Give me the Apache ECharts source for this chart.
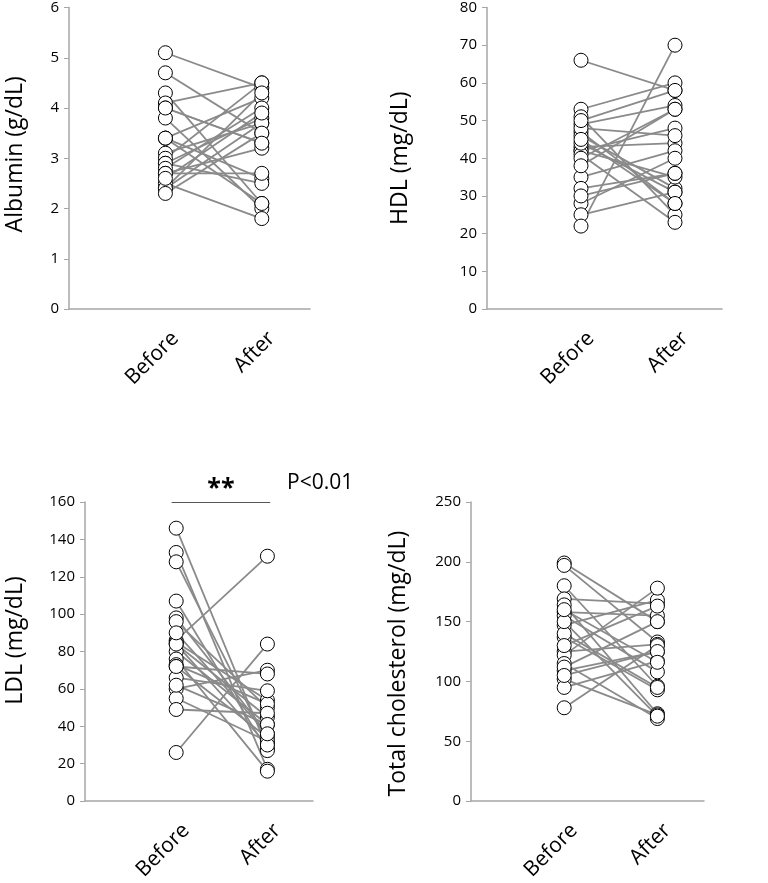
<!DOCTYPE html>
<html>
<head>
<meta charset="utf-8">
<script src="https://cdn.jsdelivr.net/npm/echarts@6/dist/echarts.min.js"></script>
<style>html,body{margin:0;padding:0;background:#fff}#c{width:768px;height:883px}</style>
</head>
<body>
<div id="c"></div>
<script>
const timeLabels = ['Before', 'After'];

const albuminBefore = [5.1, 4.7, 4.3, 4.1, 4.0, 3.8, 3.4, 3.4, 3.1, 3.0, 2.9, 2.9, 2.8, 2.7, 2.7, 2.5, 2.4, 2.4, 2.3, 3.4, 4.0, 2.6];
const albuminAfter  = [4.4, 3.5, 2.1, 4.5, 3.3, 2.0, 4.2, 2.6, 3.7, 4.5, 3.8, 2.5, 4.0, 3.2, 2.7, 1.8, 3.7, 4.3, 3.5, 2.1, 3.3, 3.9];

const hdlBefore = [66, 53, 51, 49, 47, 46, 43, 42, 42, 41, 40, 35, 32, 28, 25, 22, 48, 44, 38, 30, 45, 50];
const hdlAfter  = [58, 60, 25, 54, 28, 32, 44, 48, 35, 23, 53, 42, 36, 40, 31, 70, 46, 31, 53, 36, 28, 58];

const ldlBefore = [146, 133, 128, 107, 98, 96, 86, 85, 84, 80, 76, 73, 72, 66, 60, 55, 49, 26, 84, 72, 62, 90];
const ldlAfter  = [28, 17, 31, 27, 36, 50, 131, 54, 45, 41, 16, 52, 34, 59, 70, 32, 47, 84, 30, 68, 41, 36];

const tcBefore = [199, 197, 180, 169, 164, 158, 155, 147, 137, 125, 122, 115, 109, 102, 95, 78, 140, 130, 150, 112, 105, 160];
const tcAfter  = [150, 133, 96, 165, 73, 155, 108, 168, 93, 131, 178, 69, 125, 72, 117, 130, 95, 163, 71, 150, 125, 116];

const FONT = 'Open Sans';

const panels = [
  {grid:{left:69, top:7, width:241, height:302}, min:0, max:6, interval:1, name:'Albumin (g/dL)', gap:42, pad:[0,0,0,8], before:albuminBefore, after:albuminAfter},
  {grid:{left:487, top:6, width:235, height:303}, min:0, max:80, interval:10, name:'HDL (mg/dL)', gap:75, pad:[0,0,0,0], before:hdlBefore, after:hdlAfter},
  {grid:{left:85, top:502, width:228, height:304}, min:0, max:160, interval:20, name:'LDL (mg/dL)', gap:58, pad:[0,0,0,22], before:ldlBefore, after:ldlAfter, sig:true},
  {grid:{left:471, top:502, width:233, height:304}, min:0, max:250, interval:50, name:'Total cholesterol (mg/dL)', gap:61, pad:[0,24,0,0], before:tcBefore, after:tcAfter}
];

const grids = [], xAxes = [], yAxes = [], series = [];
panels.forEach((p, g) => {
  grids.push(p.grid);
  xAxes.push({
    gridIndex: g, type: 'value', min: 0, max: 2.5, interval: 1,
    axisLine: {show: true, lineStyle: {color: '#a6a6a6', width: 1.5}},
    axisTick: {show: false},
    splitLine: {show: false},
    axisLabel: {
      rotate: 45, margin: 36, fontSize: 21, color: '#000', fontFamily: FONT,
      padding: [0, -14, 0, 0],
      showMinLabel: false, showMaxLabel: false,
      formatter: v => (v === 1 ? timeLabels[0] : v === 2 ? timeLabels[1] : '')
    }
  });
  yAxes.push({
    gridIndex: g, type: 'value', min: p.min, max: p.max, interval: p.interval,
    axisLine: {show: true, lineStyle: {color: '#a6a6a6', width: 1.5}},
    axisTick: {show: true, length: 5, lineStyle: {color: '#a6a6a6'}},
    splitLine: {show: false},
    axisLabel: {fontSize: 15, color: '#000', fontFamily: FONT, margin: 10},
    name: p.name, nameLocation: 'middle', nameGap: p.gap,
    nameTextStyle: {fontSize: 23, color: '#000', fontFamily: FONT, padding: p.pad}
  });
  p.before.forEach((b, i) => {
    series.push({
      type: 'line', xAxisIndex: g, yAxisIndex: g, silent: true,
      data: [[1, b], [2, p.after[i]]],
      symbol: 'none', z: 2,
      lineStyle: {color: '#8a8a8a', width: 1.8}
    });
  });
  const sc = {
    type: 'scatter', xAxisIndex: g, yAxisIndex: g, z: 5,
    data: p.before.map(v => [1, v]).concat(p.after.map(v => [2, v])),
    symbol: 'circle', symbolSize: 14,
    itemStyle: {color: '#fff', borderColor: '#000', borderWidth: 1, opacity: 1}
  };
  if (p.sig) {
    sc.markLine = {
      silent: true, symbol: 'none', animation: false,
      lineStyle: {color: '#555', width: 1, type: 'solid'},
      label: {show: true, formatter: '**', position: 'insideMiddleTop', distance: 1,
              fontSize: 25, fontWeight: 'bold', color: '#000', fontFamily: FONT},
      data: [[{coord: [0.95, 160]}, {coord: [2.03, 160]}]]
    };
  }
  series.push(sc);
});

const chart = echarts.init(document.getElementById('c'), null, {renderer: 'canvas'});
chart.setOption({
  animation: false,
  textStyle: {fontFamily: FONT},
  grid: grids, xAxis: xAxes, yAxis: yAxes, series: series,
  graphic: [{type: 'text', left: 287, top: 473, style: {text: 'P<0.01', fontSize: 21, fill: '#000', fontFamily: FONT}}]
});
</script>
</body>
</html>
